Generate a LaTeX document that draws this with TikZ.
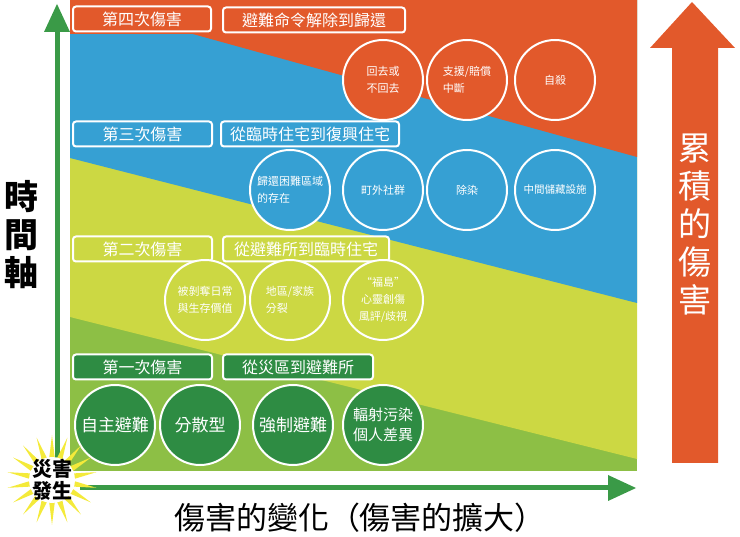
\documentclass[tikz,border=0pt]{standalone}
\usepackage{fontspec}
\setmainfont{Noto Sans CJK TC}
\usetikzlibrary{shapes.geometric,shapes.arrows}
\definecolor{cor}{HTML}{E2592B}
\definecolor{cbl}{HTML}{36A0D3}
\definecolor{cye}{HTML}{CCD843}
\definecolor{cgr}{HTML}{8DBF45}
\definecolor{cdg}{HTML}{2E8C43}
\definecolor{cax}{HTML}{3A9A47}
\definecolor{cst}{HTML}{F4EA3A}
\tikzset{
 lab/.style={draw=white,line width=2pt,rounded corners=3pt,text=white,font=\fontsize{16}{16}\selectfont,minimum height=25pt,inner xsep=4pt,anchor=west},
 circ/.style={circle,draw=white,line width=2pt,minimum size=80pt,inner sep=0pt,text=white,font=\fontsize{11}{17}\selectfont,align=left},
 gcirc/.style={circ,fill=cdg,font=\fontsize{17}{20}\selectfont,align=center},
}
\begin{document}
\begin{tikzpicture}[x=1pt,y=-1pt]
\useasboundingbox (0,0) rectangle (740,537);
% bands
\fill[cgr] (70,0) rectangle (637,471);
\fill[cye] (70,0) -- (637,0) -- (637,459) -- (70,317) -- cycle;
\fill[cbl] (70,0) -- (637,0) -- (637,303) -- (70,158) -- cycle;
\fill[cor] (70,0) -- (637,0) -- (637,157) -- (70,0) -- cycle;
\fill[cor] (70,0) rectangle (215,34);
% labels
\node[lab,fill=cor,minimum width=138pt] (l4) at (72,19) {第四次傷害};
\node[lab,fill=cor,minimum width=182pt] (s4) at (222,20) {避難命令解除到歸還};
\node[lab,fill=cbl,minimum width=139pt] (l3) at (72,134) {第三次傷害};
\node[lab,fill=cbl,minimum width=178pt] (s3) at (220,134) {從臨時住宅到復興住宅};
\node[lab,fill=cye,minimum width=139pt] (l2) at (72,249) {第二次傷害};
\node[lab,fill=cye,minimum width=166pt] (s2) at (222,249) {從避難所到臨時住宅};
\node[lab,fill=cdg,minimum width=139pt] (l1) at (72,367) {第一次傷害};
\node[lab,fill=cdg,minimum width=150pt] (s1) at (222,367) {從災區到避難所};
% circles
\node[circ,fill=cor] (c41) at (383,80) {回去或\\不回去};
\node[circ,fill=cor] (c42) at (467,80) {支援/賠償\\中斷};
\node[circ,fill=cor] (c43) at (555,80) {自殺};
\node[circ,fill=cbl] (c31) at (290,190) {歸還困難區域\\的存在};
\node[circ,fill=cbl] (c32) at (383,190) {町外社群};
\node[circ,fill=cbl] (c33) at (467,190) {除染};
\node[circ,fill=cbl,font=\fontsize{10.5}{15}\selectfont] (c34) at (555,190) {中間儲藏設施};
\node[circ,fill=cye] (c21) at (205,300) {被剝奪日常\\與生存價值};
\node[circ,fill=cye] (c22) at (290,300) {地區/家族\\分裂};
\node[circ,fill=cye,align=center] (c23) at (383,300) {“福島”\\心靈創傷\\風評/歧視};
\node[gcirc] (c11) at (115,425) {自主避難};
\node[gcirc] (c12) at (200,425) {分散型};
\node[gcirc] (c13) at (293,425) {強制避難};
\node[gcirc,font=\fontsize{15}{20}\selectfont] (c14) at (383,425) {輻射污染\\個人差異};
% axes
\coordinate (o1) at (57,478);
\coordinate (yt) at (57,4);
\coordinate (o2) at (80,488);
\coordinate (xt) at (636,488);
\draw[cax,line width=5pt] (o1) -- (57,30);
\fill[cax] (yt) -- (44,32) -- (70,32) -- cycle;
\draw[cax,line width=5pt] (o2) -- (612,488);
\fill[cax] (xt) -- (608,475) -- (608,501) -- cycle;
\node[star,star points=18,star point ratio=2.4,fill=cst,minimum size=90pt,inner sep=0pt] (burst) at (52,480) {};
\node[fill=white,circle,minimum size=46pt,inner sep=0pt] (bc) at (52,480) {};
\node[font=\fontsize{20}{22}\selectfont\bfseries,align=center] (dis) at (52,480) {災害\\發生};
\node[font=\fontsize{34}{38}\selectfont\bfseries,align=center] (ty) at (22,235) {時\\間\\軸};
\node[font=\fontsize{31}{34}\selectfont] (tx) at (360,518) {傷害的變化（傷害的擴大）};
% right arrow
\fill[cor] (692,2) -- (735,48) -- (718,48) -- (718,463) -- (672,463) -- (672,48) -- (650,48) -- cycle;
\node[font=\fontsize{33}{38}\selectfont,text=white,align=center] (tr) at (695,225) {累\\積\\的\\傷\\害};
\end{tikzpicture}
\end{document}
